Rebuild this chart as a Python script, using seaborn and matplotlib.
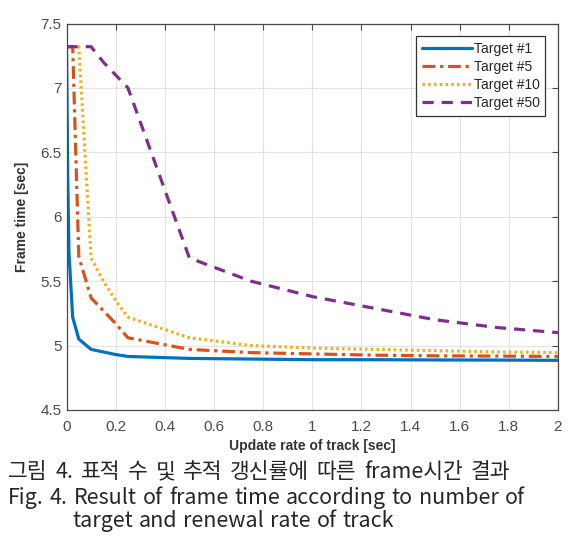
import numpy as np
import pandas as pd
import matplotlib
matplotlib.use("Agg")
import matplotlib.pyplot as plt
import seaborn as sns

# Data
update_rate = [0, 0.005, 0.01, 0.025, 0.05, 0.1, 0.15, 0.2, 0.25,
               0.5, 0.75, 1.0, 1.25, 1.5, 1.75, 2.0]

target_1 = [7.32, 6.30, 5.72, 5.22, 5.05, 4.97, 4.95, 4.93, 4.915,
            4.900, 4.895, 4.890, 4.890, 4.888, 4.887, 4.885]
target_5 = [7.32, 7.32, 7.32, 7.32, 5.69, 5.37, 5.27, 5.17, 5.06,
            4.97, 4.945, 4.935, 4.925, 4.920, 4.918, 4.915]
target_10 = [7.32, 7.32, 7.32, 7.32, 7.32, 5.68, 5.50, 5.35, 5.22,
             5.06, 5.00, 4.98, 4.97, 4.96, 4.95, 4.945]
target_50 = [7.32, 7.32, 7.32, 7.32, 7.32, 7.32, 7.20, 7.10, 7.00,
             5.68, 5.50, 5.38, 5.29, 5.20, 5.14, 5.10]

series_names = ["Target #1", "Target #5", "Target #10", "Target #50"]
series_values = [target_1, target_5, target_10, target_50]

x_ticks = [0, 0.2, 0.4, 0.6, 0.8, 1, 1.2, 1.4, 1.6, 1.8, 2]
x_tick_labels = ["0", "0.2", "0.4", "0.6", "0.8", "1", "1.2", "1.4", "1.6", "1.8", "2"]
y_ticks = [4.5, 5, 5.5, 6, 6.5, 7, 7.5]
y_tick_labels = ["4.5", "5", "5.5", "6", "6.5", "7", "7.5"]

caption_lines = [
    "그림 4. 표적 수 및 추적 갱신률에 따른 frame시간 결과",
    "Fig. 4. Result of frame time according to number of",
    "target and renewal rate of track",
]

# Long-format table for seaborn
df = pd.concat(
    [pd.DataFrame({"rate": update_rate, "frame": vals, "series": name})
     for name, vals in zip(series_names, series_values)],
    ignore_index=True
)

palette = {
    "Target #1": "#0072BD",
    "Target #5": "#D95319",
    "Target #10": "#EDB120",
    "Target #50": "#7E2F8E",
}
dashes = {
    "Target #1": "",
    "Target #5": (4, 1.5, 1, 1.5),
    "Target #10": (0.8, 1),
    "Target #50": (3.5, 2.5),
}

sns.set_style("white")
plt.rcParams["font.family"] = ["Liberation Sans", "DejaVu Sans"]

fig = plt.figure(figsize=(5.8, 5.6), dpi=100)
ax = fig.add_axes([0.1147, 0.268, 0.8473, 0.690])

sns.lineplot(
    data=df,
    x="rate",
    y="frame",
    hue="series",
    style="series",
    hue_order=series_names,
    style_order=series_names,
    palette=palette,
    dashes=dashes,
    linewidth=2.3,
    sort=True,
    estimator=None,
    ax=ax
)

ax.set_xlim(0, 2)
ax.set_ylim(4.5, 7.5)
ax.set_xticks(x_ticks)
ax.set_xticklabels(x_tick_labels)
ax.set_yticks(y_ticks)
ax.set_yticklabels(y_tick_labels)
ax.grid(True, color="#e3e3e3", linewidth=0.8)
ax.tick_params(direction="in", length=4, width=0.8, colors="#4a4a4a",
               labelsize=11, top=True, right=True,
               labeltop=False, labelright=False)
ax.tick_params(axis="x", pad=7)
for side in ax.spines.values():
    side.set_color("#4a4a4a")
    side.set_linewidth(0.9)

ax.set_xlabel("Update rate of track [sec]", fontsize=10, fontweight="bold",
              color="#333333", labelpad=4)
ax.set_ylabel("Frame time [sec]", fontsize=10, fontweight="bold",
              color="#333333", labelpad=8)

handles, labels = ax.get_legend_handles_labels()
leg = ax.legend(handles, labels, loc="upper right", fontsize=10,
                handlelength=3.6, handletextpad=0.15, borderpad=0.4,
                labelspacing=0.3, fancybox=False, framealpha=1,
                edgecolor="#333333", borderaxespad=0.9)
leg.get_frame().set_linewidth(0.9)

# Caption, justified word by word like the printed figure
cap_font = ["Noto Sans CJK KR", "DejaVu Sans"]
renderer = fig.canvas.get_renderer()
W, H = fig.bbox.width, fig.bbox.height


def justified(line, x0, x1, y):
    words = line.split(" ")
    texts = [fig.text(0, y, w, fontsize=15.5, family=cap_font,
                      fontweight="medium", va="center", ha="left")
             for w in words]
    widths = [t.get_window_extent(renderer).width for t in texts]
    gap = (x1 - x0 - sum(widths)) / max(len(words) - 1, 1)
    gap = max(gap, 6)
    x = x0
    for t, w in zip(texts, widths):
        t.set_x(x / W)
        x += w + gap


justified(caption_lines[0], 8, 510, 0.157)
justified(caption_lines[1], 8, 518, 0.111)
justified(caption_lines[2], 72, 372, 0.069)

fig.savefig("out.png", dpi=100)
plt.close(fig)
